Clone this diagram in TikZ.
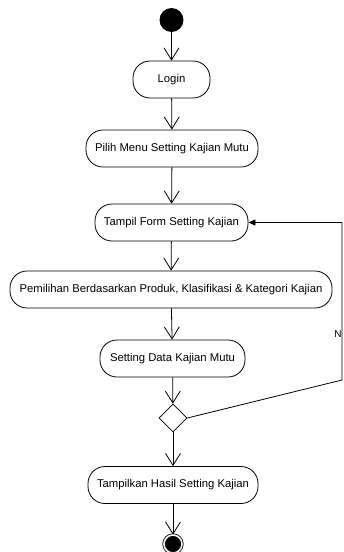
\documentclass[tikz,border=0pt]{standalone}
\usepackage{fontspec}
\setmainfont{Liberation Sans}
\usepackage{tikz}
\usetikzlibrary{shapes.geometric,arrows.meta}

\begin{document}
\begin{tikzpicture}[x=1pt,y=-1pt,line width=0.8pt]
    %
    % `action' is used for the rounded activity boxes.
    % `into' puts the open arrow head on the node that is being placed.
    % `decision' is the diamond, `initial' and `final' the two dots.
    \tikzstyle{action} = [draw,fill=white,rounded corners=17pt,minimum height=37pt,inner sep=3pt,font=\fontsize{11.3}{13}\selectfont]
    \tikzstyle{into} = [{Straight Barb[length=12pt,width=15pt,line width=0.8pt]}-]
    \tikzstyle{decision} = [draw,fill=white,shape=diamond,minimum width=28pt,minimum height=28pt,inner sep=0pt]
    \tikzstyle{initial} = [fill,shape=circle,minimum size=24pt,inner sep=0pt]
    \tikzstyle{final} = [fill,draw,shape=circle,minimum size=18pt,inner sep=0pt,double,double distance=1.6pt]
    \useasboundingbox (0,0) rectangle (343,552);
    %
    % Start
    \node[initial] (start) at (171.5,20) {};
    %
    % Activities
    \node[action,minimum width=77pt] (login) at (171.5,79.5) {Login} edge [into] (start);
    \node[action,minimum width=172pt] (pilih) at (172,148.5) {Pilih Menu Setting Kajian Mutu} edge [into] (login);
    \node[action,minimum width=153pt] (tampil) at (171.5,222.5) {Tampil Form Setting Kajian} edge [into] (pilih);
    \node[action,minimum width=322pt] (pemilihan) at (171,289.5) {Pemilihan Berdasarkan Produk, Klasifikasi \& Kategori Kajian} edge [into] (tampil);
    \node[action,minimum width=145pt] (setting) at (172.5,358.5) {Setting Data Kajian Mutu} edge [into] (pemilihan);
    %
    % Decision
    \node[decision] (cek) at (173,418) {} edge [into] (setting);
    %
    % Result and end
    \node[action,minimum width=170pt] (hasil) at (173,485) {Tampilkan Hasil Setting Kajian} edge [into] (cek);
    \node[final] (stop) at (173,544) {} edge [into] (hasil);
    %
    % Back to the form
    \coordinate (balik) at (342,380);
    \draw[-{Triangle[length=7pt,width=6pt]}] (cek.east) -- (balik) |- (tampil.east);
    \node[font=\fontsize{10}{12}\selectfont,anchor=east,inner sep=0pt] (tidak) at (342,334) {N};
    %
\end{tikzpicture}
\end{document}
